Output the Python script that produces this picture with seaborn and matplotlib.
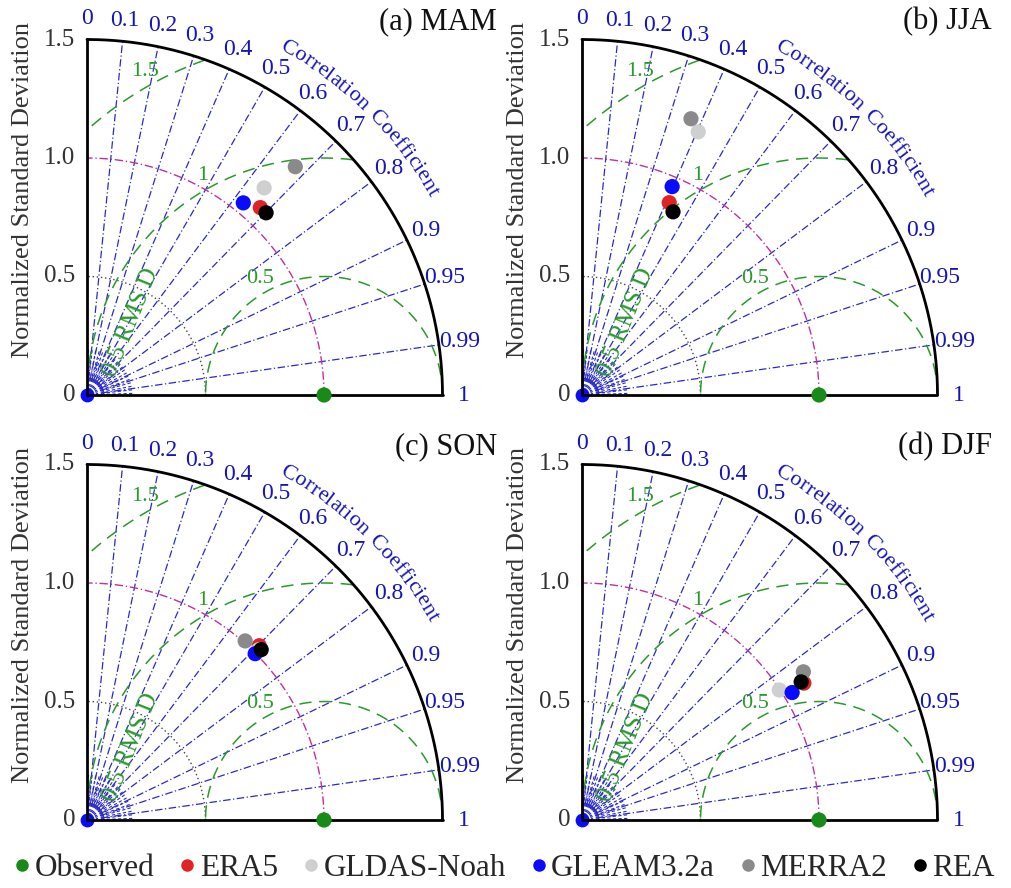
import numpy as np
import pandas as pd
import matplotlib
matplotlib.use("Agg")
import matplotlib.pyplot as plt
from matplotlib.lines import Line2D
import seaborn as sns

# data (normalized std, correlation)
products = ["Observed", "ERA5", "GLDAS-Noah", "GLEAM3.2a", "MERRA2", "REA"]
colors = ["#178a17", "#e02424", "#cfcfcf", "#0a0aff", "#8a8a8a", "#000000"]
seasons = ["(a) MAM", "(b) JJA", "(c) SON", "(d) DJF"]

std_mam = [1.0, 1.077, 1.150, 1.045, 1.304, 1.078]
cor_mam = [1.0, 0.679, 0.650, 0.631, 0.674, 0.701]
std_jja = [1.0, 0.891, 1.214, 0.958, 1.253, 0.863]
cor_jja = [1.0, 0.413, 0.404, 0.397, 0.367, 0.445]
std_son = [1.0, 1.034, 1.020, 0.998, 1.008, 1.028]
cor_son = [1.0, 0.703, 0.710, 0.711, 0.662, 0.715]
std_djf = [1.0, 1.100, 0.997, 1.037, 1.124, 1.093]
cor_djf = [1.0, 0.851, 0.835, 0.855, 0.831, 0.846]

corr_ticks = [0.0, 0.1, 0.2, 0.3, 0.4, 0.5, 0.6, 0.7, 0.8, 0.9, 0.95, 0.99, 1.0]
corr_labels = ["0", "0.1", "0.2", "0.3", "0.4", "0.5", "0.6", "0.7", "0.8", "0.9", "0.95", "0.99", "1"]
std_ticks = [0, 0.5, 1.0, 1.5]
std_labels = ["0", "0.5", "1.0", "1.5"]
rmsd_levels = [0.5, 1.0, 1.5]
rmsd_labels = ["0.5", "1", "1.5"]

rows = []
for s, st, co in zip(seasons, [std_mam, std_jja, std_son, std_djf],
                     [cor_mam, cor_jja, cor_son, cor_djf]):
    for p, a, c in zip(products, st, co):
        rows.append({"season": s, "product": p, "std": a, "corr": c})
df = pd.DataFrame(rows)
df["x"] = df["std"] * df["corr"]
df["y"] = df["std"] * np.sqrt(1 - df["corr"] ** 2)

sns.set_style("white")
plt.rcParams["font.family"] = ["Liberation Serif", "DejaVu Serif"]

W, H = 1011, 888
fig = plt.figure(figsize=(W / 100, H / 100), dpi=100)
S = 237.0  # pixels per unit
origins = [(87, 395), (582, 395), (87, 820), (582, 820)]

BLUE = "#2a2ac8"
TXTBLUE = "#1616b8"
GREEN = "#2a9a2a"
MAG = "#c0309a"

# char widths for the curved label (em units, Times-like)
cw = {"C": .67, "o": .5, "r": .33, "e": .44, "l": .28, "a": .44, "t": .28,
      "i": .28, "n": .5, " ": .3, "f": .33, "c": .44}
curve_text = "Correlation Coefficient"

for season, (ox, oy) in zip(seasons, origins):
    x0, x1, y0, y1 = -0.35, 1.8, -0.15, 1.65
    rect = [(ox + x0 * S) / W, (H - (oy - y0 * S)) / H,
            (x1 - x0) * S / W, (y1 - y0) * S / H]
    ax = fig.add_axes(rect)
    ax.set_xlim(x0, x1)
    ax.set_ylim(y0, y1)
    ax.axis("off")

    # correlation rays
    for c in corr_ticks[1:-1]:
        th = np.arccos(c)
        ax.plot([0, 1.5 * np.cos(th)], [0, 1.5 * np.sin(th)], color=BLUE,
                lw=0.9, ls=(0, (6, 2, 1, 2)), zorder=1)
    for c, lab in zip(corr_ticks, corr_labels):
        th = np.arccos(c)
        ax.text(1.59 * np.cos(th), 1.59 * np.sin(th), lab, color=TXTBLUE,
                fontsize=17, ha="center", va="center")

    # clutter near the origin
    for a in np.linspace(2, 88, 20):
        t = np.radians(a)
        ax.plot([0.06 * np.cos(t), 0.2 * np.cos(t)], [0.06 * np.sin(t), 0.2 * np.sin(t)],
                color=BLUE, lw=0.8, ls=(0, (3, 2)), zorder=1)
    for r in [0.04, 0.07]:
        t = np.linspace(0, np.pi / 2, 40)
        ax.plot(r * np.cos(t), r * np.sin(t), color=BLUE, lw=0.8, zorder=1)
    ax.scatter([0], [0], s=80, color="#0a0aff", zorder=2, clip_on=False)

    # std arcs
    t = np.linspace(0, np.pi / 2, 200)
    ax.plot(0.5 * np.cos(t), 0.5 * np.sin(t), color="#444444", lw=1, ls=(0, (1, 2)), zorder=1)
    ax.plot(1.0 * np.cos(t), 1.0 * np.sin(t), color=MAG, lw=1, ls=(0, (6, 2, 1, 2)), zorder=1)
    ax.plot(1.5 * np.cos(t), 1.5 * np.sin(t), color="black", lw=2, zorder=3)
    ax.plot([0, 0], [0, 1.5], color="black", lw=2, zorder=3)
    ax.plot([0, 1.5], [0, 0], color="black", lw=2, zorder=3)

    # RMSD arcs
    phi = np.linspace(0, np.pi, 400)
    for R, lab in zip(rmsd_levels, rmsd_labels):
        xs = 1 + R * np.cos(phi)
        ys = R * np.sin(phi)
        m = (xs >= 0) & (xs ** 2 + ys ** 2 <= 1.5 ** 2 + 1e-9)
        ax.plot(xs[m], ys[m], color=GREEN, lw=1.1, ls=(0, (8, 5)), zorder=1)
        a = np.radians(119)
        ax.text(1 + (R + 0.06) * np.cos(a), (R + 0.06) * np.sin(a), lab,
                color=GREEN, fontsize=16, ha="center", va="center")
    ax.text(0.186, 0.308, "0.5 RMS D", color=GREEN, fontsize=18, rotation=68,
            ha="center", va="center", zorder=2)

    # std tick labels and axis title
    for v, lab in zip(std_ticks, std_labels):
        ax.text(-0.05, v, lab, fontsize=18, color="#333333", ha="right", va="center")
    ax.text(-0.27, 0.865, "Normalized Standard Deviation", fontsize=19,
            color="#333333", rotation=90, ha="center", va="center")
    ax.text(1.73, 1.574, season, fontsize=22, ha="right", va="center", color="#111111")

    # curved "Correlation Coefficient"
    widths = np.array([cw.get(ch, .45) for ch in curve_text])
    centers = np.cumsum(widths) - widths / 2
    angs = 61 - (61 - 30) * centers / widths.sum()
    for ch, ag in zip(curve_text, angs):
        t = np.radians(ag)
        ax.text(1.69 * np.cos(t), 1.69 * np.sin(t), ch, color=TXTBLUE, fontsize=16,
                rotation=ag - 90, ha="center", va="center", rotation_mode="anchor")

    sub = df[df["season"] == season]
    sns.scatterplot(data=sub, x="x", y="y", hue="product", hue_order=products,
                    palette=colors, s=120, edgecolor="none", legend=False,
                    ax=ax, zorder=6, clip_on=False)
    ax.set_xlabel("")
    ax.set_ylabel("")

handles = [Line2D([], [], marker="o", ls="none", color=c, markersize=8) for c in colors]
fig.legend(handles, products, loc="center", bbox_to_anchor=(0.5, 0.022), ncol=6,
           frameon=False, fontsize=22.5, handletextpad=0.2, columnspacing=0.85,
           handlelength=0.4, borderpad=0.1, borderaxespad=0.1)

fig.savefig("out.png", dpi=100)
